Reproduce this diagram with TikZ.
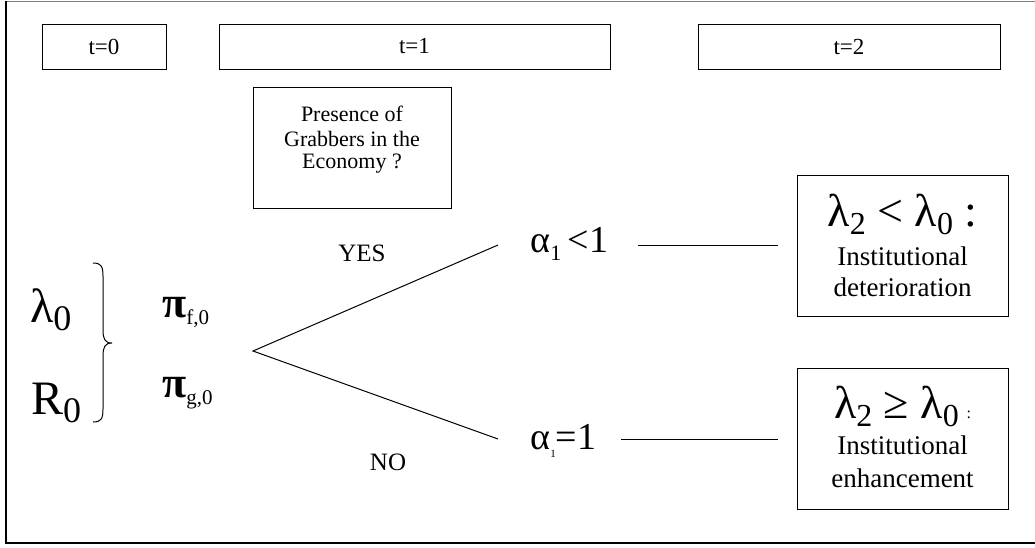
\documentclass[tikz,border=0pt]{standalone}
\usepackage{fontspec}
\setmainfont{Liberation Serif}
\newcommand{\fs}[1]{\fontsize{#1}{#1}\selectfont}
\begin{document}
\begin{tikzpicture}[x=1pt,y=-1pt,
  tbox/.style={draw,line width=0.9pt,minimum height=45pt,inner sep=0pt,font=\fs{23}},
  outbox/.style={draw,line width=0.9pt,inner sep=0pt},
  txt/.style={inner sep=0pt,anchor=center},
  lnk/.style={line width=1pt}]
\useasboundingbox (0,0) rectangle (1035,547);
\draw[line width=0.8pt,gray] (6,1) -- (1035,1);
\draw[line width=1.2pt] (6,1) -- (6,543) -- (1035,543);
% time boxes
\node[tbox,minimum width=124pt] (t0) at (104,46.5) {t=0};
\node[tbox,minimum width=391pt] (t1) at (414.5,46.5) {t=1};
\node[tbox,minimum width=302pt] (t2) at (849,46.5) {t=2};
% question box
\node[outbox,minimum width=198pt,minimum height=121pt] (q) at (352,147.5) {};
\node[txt,font=\fs{22}] (q1) at (352,114) {Presence of};
\node[txt,font=\fs{22}] (q2) at (352,139) {Grabbers in the};
\node[txt,font=\fs{22}] (q3) at (352,164) {Economy ?};
% initial values
\node[font=\fs{48},anchor=base west,inner sep=0pt] (lam) at (30,322) {λ{\fs{36}\raisebox{-8pt}{0}}};
\node[font=\fs{48},anchor=base west,inner sep=0pt] (r0) at (31,414) {R{\fs{36}\raisebox{-8pt}{0}}};
\draw[line width=1pt] (93,263) .. controls (101,263) and (103,266) .. (103,276)
  -- (103,330) .. controls (103,339) and (105,343) .. (112,343)
  .. controls (105,343) and (103,347) .. (103,356)
  -- (103,409) .. controls (103,419) and (101,422) .. (93,422);
\node[font=\fs{44}\bfseries,anchor=base west,inner sep=0pt] (pf) at (162,317) {π{\fs{21}\mdseries\raisebox{-7pt}{f,0}}};
\node[font=\fs{44}\bfseries,anchor=base west,inner sep=0pt] (pg) at (162,397) {π{\fs{21}\mdseries\raisebox{-7pt}{g,0}}};
% tree
\coordinate (v) at (253,351);
\coordinate (ue) at (498,245);
\coordinate (le) at (498,439);
\draw[lnk] (ue) -- (v) -- (le);
\node[txt,font=\fs{25}] (yes) at (362,253) {YES};
\node[txt,font=\fs{25}] (no) at (388,462) {NO};
\node[font=\fs{38},anchor=west] (a1) at (527,244) {α{\fs{22}\raisebox{-8pt}{1}}\,<1};
\node[font=\fs{38},anchor=west] (a2) at (527,441) {α{\fs{11}\raisebox{-8pt}{1}}=1};
\coordinate (u1) at (638,245);
\coordinate (u2) at (778,245);
\coordinate (l1) at (621,439);
\coordinate (l2) at (778,439);
\draw[lnk] (u1) -- (u2);
\draw[lnk] (l1) -- (l2);
% outcome boxes
\node[outbox,minimum width=211pt,minimum height=141pt] (det) at (902.5,245.5) {};
\node[txt,font=\fs{46}] (d1) at (902.5,214) {λ{\fs{32}\raisebox{-8pt}{2}} < λ{\fs{32}\raisebox{-8pt}{0}} :};
\node[txt,font=\fs{27}] (d2) at (902.5,256) {Institutional};
\node[txt,font=\fs{27}] (d3) at (902.5,287) {deterioration};
\node[outbox,minimum width=211pt,minimum height=141pt] (enh) at (902.5,438.5) {};
\node[txt,font=\fs{46}] (e1) at (902.5,406) {λ{\fs{32}\raisebox{-8pt}{2}} ≥ λ{\fs{32}\raisebox{-8pt}{0}}\,{\fs{16}:}};
\node[txt,font=\fs{27}] (e2) at (902.5,445) {Institutional};
\node[txt,font=\fs{27}] (e3) at (902.5,478) {enhancement};
\end{tikzpicture}
\end{document}
